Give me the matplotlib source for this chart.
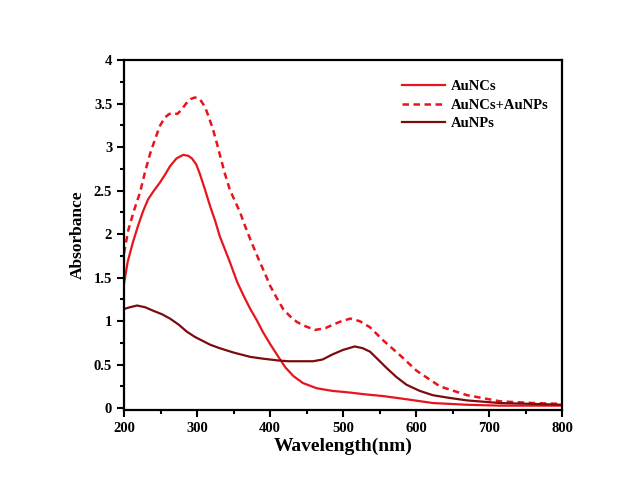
import matplotlib
matplotlib.use("Agg")
import matplotlib.pyplot as plt
from matplotlib.ticker import MultipleLocator, FormatStrFormatter

plt.rcParams['font.family'] = ['Liberation Serif', 'DejaVu Serif']
plt.rcParams['font.weight'] = 'bold'

# AuNCs
wl_ncs = [200, 205, 212, 219, 226, 233, 241, 249, 256, 263, 272, 281, 288, 293, 299, 304, 311,
          318, 325, 331, 338, 345, 355, 364, 373, 382, 390, 400, 410, 421, 432, 445, 464, 485,
          510, 530, 555, 590, 623, 670, 715, 760, 800]
abs_ncs = [1.43, 1.68, 1.90, 2.09, 2.26, 2.40, 2.50, 2.59, 2.68, 2.78, 2.87, 2.91, 2.90, 2.87, 2.80,
           2.69, 2.51, 2.32, 2.15, 1.98, 1.83, 1.68, 1.45, 1.29, 1.14, 1.01, 0.88, 0.74, 0.61,
           0.47, 0.37, 0.29, 0.23, 0.20, 0.18, 0.16, 0.14, 0.10, 0.06, 0.04, 0.03, 0.03, 0.03]

# AuNCs+AuNPs
wl_mix = [200, 206, 214, 222, 229, 236, 243, 249, 256, 262, 267, 273, 279, 285, 291, 297, 304,
          311, 316, 322, 327, 332, 338, 345, 352, 359, 366, 373, 380, 386, 393, 400, 409, 418,
          427, 437, 449, 462, 476, 486, 498, 510, 523, 537, 555, 578, 601, 633, 670, 715, 760, 800]
abs_mix = [1.78, 2.05, 2.28, 2.48, 2.72, 2.93, 3.10, 3.24, 3.34, 3.38, 3.39, 3.38, 3.43, 3.50, 3.55,
           3.57, 3.55, 3.46, 3.35, 3.20, 3.05, 2.89, 2.70, 2.51, 2.38, 2.25, 2.09, 1.94, 1.80,
           1.68, 1.55, 1.41, 1.27, 1.14, 1.06, 0.99, 0.94, 0.90, 0.92, 0.96, 1.00, 1.03, 1.00,
           0.93, 0.78, 0.61, 0.43, 0.25, 0.15, 0.08, 0.06, 0.05]

# AuNPs
wl_nps = [200, 208, 218, 229, 240, 252, 263, 275, 286, 297, 304, 318, 331, 350, 373, 390, 410,
          425, 441, 459, 472, 486, 500, 516, 527, 537, 548, 560, 573, 587, 605, 623, 645,
          670, 715, 760, 800]
abs_nps = [1.14, 1.16, 1.18, 1.16, 1.12, 1.08, 1.03, 0.96, 0.88, 0.82, 0.79, 0.73, 0.69, 0.64, 0.59,
           0.57, 0.55, 0.54, 0.54, 0.54, 0.56, 0.62, 0.67, 0.71, 0.69, 0.65, 0.56, 0.46,
           0.36, 0.27, 0.20, 0.15, 0.12, 0.09, 0.06, 0.05, 0.04]

fig = plt.figure(figsize=(6.41, 4.88), dpi=100)
ax = fig.add_axes([124 / 641, 78 / 488, 438 / 641, 350 / 488])

ax.plot(wl_ncs, abs_ncs, color='#e8141c', lw=1.6, label='AuNCs')
ax.plot(wl_mix, abs_mix, color='#e8141c', lw=1.8, ls=(0, (2.6, 1.8)), label='AuNCs+AuNPs')
ax.plot(wl_nps, abs_nps, color='#7a0c10', lw=1.6, label='AuNPs')

ax.set_xlim(200, 800)
ax.set_ylim(-0.02, 4)
ax.xaxis.set_major_locator(MultipleLocator(100))
ax.xaxis.set_minor_locator(MultipleLocator(50))
ax.yaxis.set_major_locator(MultipleLocator(0.5))
ax.yaxis.set_minor_locator(MultipleLocator(0.25))
ax.yaxis.set_major_formatter(FormatStrFormatter('%g'))

ax.tick_params(which='both', direction='out', width=1.5, labelsize=10.5, top=False, right=False)
ax.tick_params(which='major', length=5)
ax.tick_params(which='minor', length=3)
for lab in ax.get_xticklabels() + ax.get_yticklabels():
    lab.set_fontweight('bold')
for s in ax.spines.values():
    s.set_linewidth(1.6)

ax.set_xlabel('Wavelength(nm)', fontsize=14, fontweight='bold', labelpad=2)
ax.set_ylabel('Absorbance', fontsize=12.5, fontweight='bold', labelpad=6)

leg = ax.legend(loc='upper right', bbox_to_anchor=(1.0, 0.98), frameon=False, fontsize=10.5,
                handlelength=3.0, handletextpad=0.4, labelspacing=0.35)
for t in leg.get_texts():
    t.set_fontweight('bold')

fig.savefig('out.png', dpi=100, facecolor='white')
